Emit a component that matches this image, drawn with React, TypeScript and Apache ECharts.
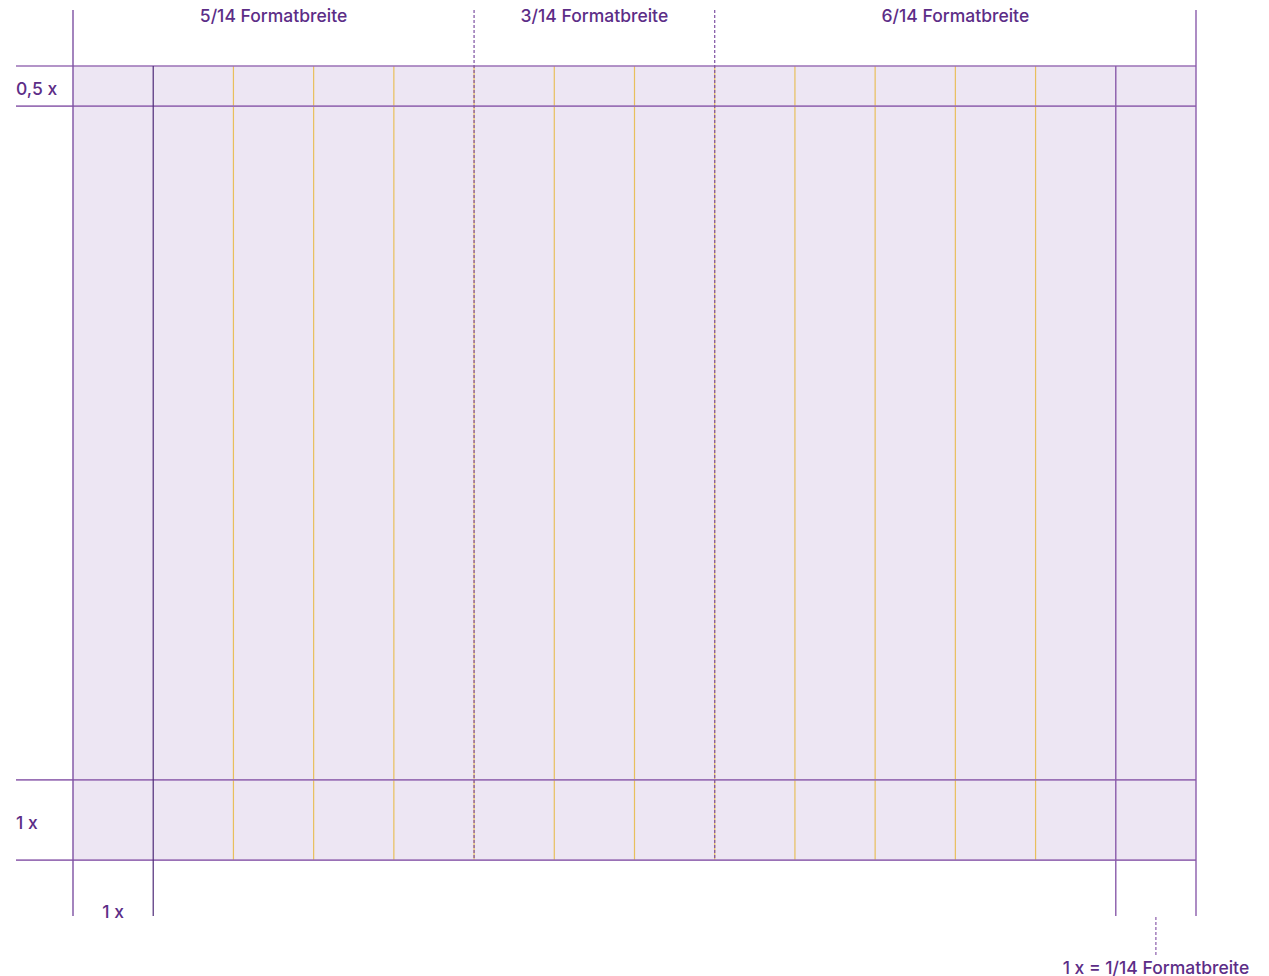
import React, { useEffect, useRef } from "react";
import * as echarts from "echarts";

// Grid description in units of 1x = 1/14 of the format width
const columnCount = 14;
const rowBands = [0, 0.5, 8.9, 9.9];
const outerColumns = [0, 14];
const marginColumns = [1, 13];
const sectionDividers = [5, 8];
const innerColumns = [2, 3, 4, 6, 7, 9, 10, 11, 12];
const sectionNames = ["5/14 Formatbreite", "3/14 Formatbreite", "6/14 Formatbreite"];
const sectionStarts = [0, 5, 8];
const sectionEnds = [5, 8, 14];
const sideLabels = ["0,5 x", "1 x"];
const sideLabelRows = [0.275, 9.425];
const bottomLabel = "1 x";
const noteLabel = "1 x = 1/14 Formatbreite";

const W = 1269;
const H = 976;
const U = 1123 / 14;
const LEFT = 73;
const TOP = 66;

const TEXT = "#5c2d87";
const FILL = "#ede6f3";
const YELLOW = "#e8bf5c";
const HLINE = "#9a71b6";
const PURPLE = "#8a5cab";
const DARK = "#4e2a78";

type Seg = [number, number, number, number, string, number, number];

export default function App() {
  const ref = useRef<HTMLDivElement>(null);
  useEffect(() => {
    if (!ref.current) return;
    const chart = echarts.init(ref.current, null, { renderer: "svg" });
    const topExt = (10 - TOP) / U;
    const botExt = (916 - TOP) / U;
    const leftExt = (16 - LEFT) / U;
    const bottom = rowBands[rowBands.length - 1];

    const segs: Seg[] = [];
    innerColumns.forEach((c) => segs.push([c, 0, c, bottom, YELLOW, 1.2, 0]));
    sectionDividers.forEach((c) => segs.push([c, 0, c, bottom, YELLOW, 1.2, 0]));
    rowBands.forEach((r) => segs.push([leftExt, r, columnCount, r, HLINE, 1.6, 0]));
    outerColumns.forEach((c, i) =>
      segs.push([c, topExt, c, botExt, i === 0 ? "#7d50a2" : PURPLE, 1.4, 0])
    );
    marginColumns.forEach((c, i) =>
      segs.push([c, 0, c, botExt, i === 0 ? DARK : PURPLE, i === 0 ? 1.2 : 1.4, 0])
    );
    sectionDividers.forEach((c) => segs.push([c, topExt, c, bottom, "#7d50a2", 1.2, 1]));
    segs.push([13.5, (917 - TOP) / U, 13.5, (955 - TOP) / U, PURPLE, 1.2, 1]);

    type Lbl = [number, number, string, string];
    const labels: Lbl[] = [];
    sectionNames.forEach((n, i) =>
      labels.push([(sectionStarts[i] + sectionEnds[i]) / 2, (15 - TOP) / U, n, "center"])
    );
    sideLabels.forEach((n, i) => labels.push([leftExt, sideLabelRows[i], n, "left"]));
    labels.push([0.5, (911 - TOP) / U, bottomLabel, "center"]);
    labels.push([13.5, (967 - TOP) / U, noteLabel, "center"]);

    chart.setOption({
      animation: false,
      grid: { left: 0, right: 0, top: 0, bottom: 0 },
      xAxis: { type: "value", min: -LEFT / U, max: (W - LEFT) / U, show: false },
      yAxis: { type: "value", inverse: true, min: -TOP / U, max: (H - TOP) / U, show: false },
      series: [
        {
          type: "custom",
          silent: true,
          data: [[0, 0, columnCount, bottom]],
          renderItem: (params: any, api: any) => {
            const p1 = api.coord([api.value(0), api.value(1)]);
            const p2 = api.coord([api.value(2), api.value(3)]);
            return {
              type: "rect",
              shape: { x: p1[0], y: p1[1], width: p2[0] - p1[0], height: p2[1] - p1[1] },
              style: { fill: FILL },
            };
          },
        },
        {
          type: "custom",
          silent: true,
          data: segs,
          renderItem: (params: any, api: any) => {
            const s = segs[params.dataIndex];
            const p1 = api.coord([s[0], s[1]]);
            const p2 = api.coord([s[2], s[3]]);
            return {
              type: "line",
              shape: { x1: p1[0], y1: p1[1], x2: p2[0], y2: p2[1] },
              style: {
                stroke: s[4],
                lineWidth: s[5],
                lineDash: s[6] ? [3, 2] : null,
              },
            };
          },
        },
        {
          type: "custom",
          silent: true,
          data: labels.map((l) => [l[0], l[1]]),
          renderItem: (params: any, api: any) => {
            const l = labels[params.dataIndex];
            const p = api.coord([l[0], l[1]]);
            return {
              type: "text",
              x: p[0],
              y: p[1],
              style: {
                text: l[2],
                fill: TEXT,
                font: "500 17.5px Inter",
                align: l[3],
                verticalAlign: "middle",
              },
            };
          },
        },
      ],
    });
    return () => chart.dispose();
  }, []);
  return (
    <div
      ref={ref}
      style={{ position: "absolute", left: 0, top: 0, width: W, height: H }}
    />
  );
}
